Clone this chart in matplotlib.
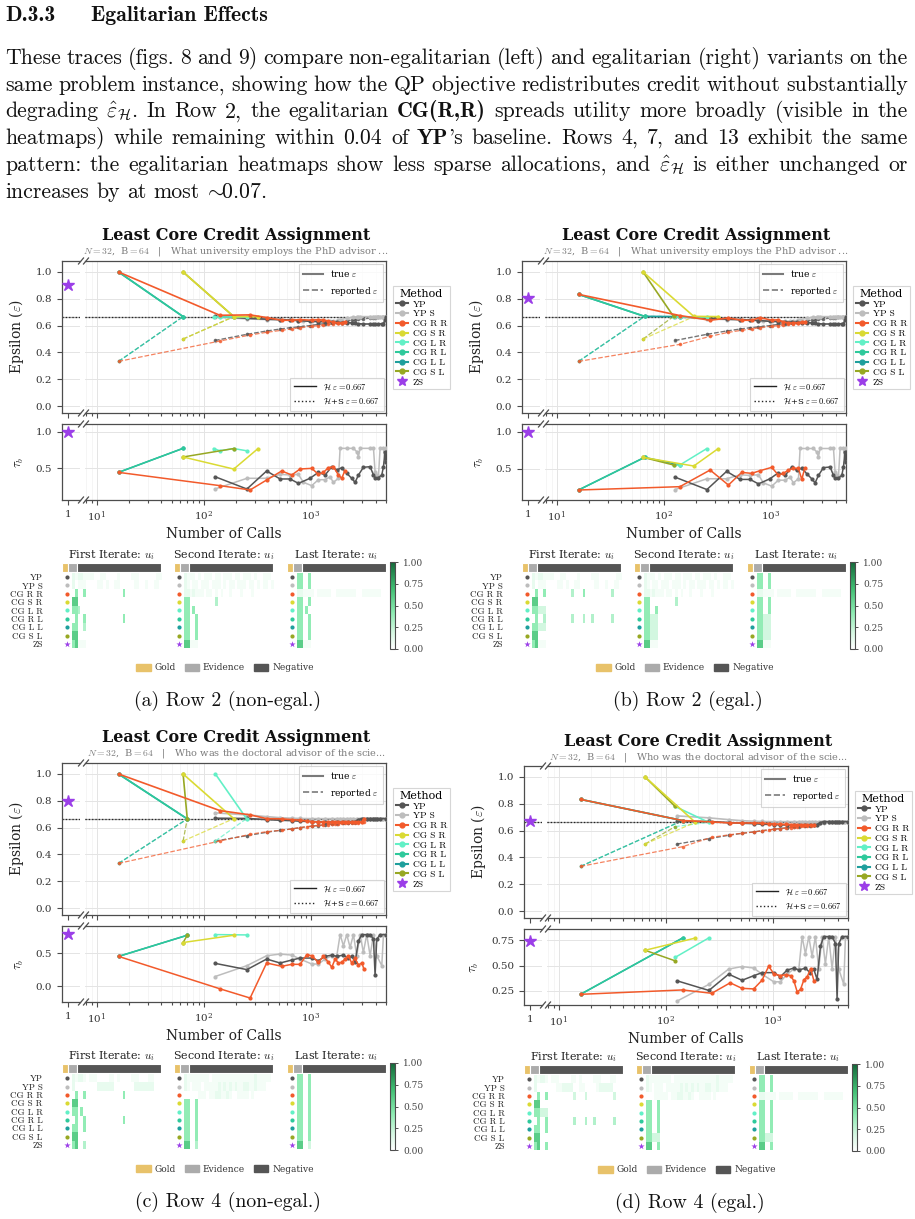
import re
import numpy as np
import matplotlib
matplotlib.use('Agg')
import matplotlib.pyplot as plt
from matplotlib.lines import Line2D
from matplotlib.patches import Rectangle, Patch
from matplotlib.colors import LinearSegmentedColormap
import matplotlib.ticker as mticker

plt.rcParams['mathtext.fontset'] = 'cm'
plt.rcParams['font.family'] = 'DejaVu Serif'

# ======================= DATA =======================
METHODS = ['YP', 'YP S', 'CG R R', 'CG S R', 'CG L R', 'CG R L', 'CG L L', 'CG S L', 'ZS']
COLORS = ['#555555', '#bdbdbd', '#f25a2b', '#dada33', '#62f0c6', '#2ec99b', '#1e9f9c', '#97a823', '#9b3ee8']
N_GOLD, N_EVID, N_NEG = 2, 3, 27
EPS_REF = 0.667

HEADING_NUM = 'D.3.3'
HEADING = 'Egalitarian Effects'
PARAGRAPH = [
    "These traces (figs. 8 and 9) compare non-egalitarian (left) and egalitarian (right) variants on the",
    "same problem instance, showing how the QP objective redistributes credit without substantially",
    r"degrading $\hat{\varepsilon}_{\mathcal{H}}$. In Row 2, the egalitarian **CG(R,R)** spreads utility more broadly (visible in the",
    r"heatmaps) while remaining within 0.04 of **YP**'s baseline. Rows 4, 7, and 13 exhibit the same",
    r"pattern: the egalitarian heatmaps show less sparse allocations, and $\hat{\varepsilon}_{\mathcal{H}}$ is either unchanged or",
    r"increases by at most $\!\sim\!\!$0.07.",
]
CAPTIONS = ['(a) Row 2 (non-egal.)', '(b) Row 2 (egal.)', '(c) Row 4 (non-egal.)', '(d) Row 4 (egal.)']
SUBTITLES = [r'$N = 32$,  B$ = 64$   |   What university employs the PhD advisor ...',
             r'$N = 32$,  B$ = 64$   |   What university employs the PhD advisor ...',
             r'$N = 32$,  B$ = 64$   |   Who was the doctoral advisor of the scie...',
             r'$N = 32$,  B$ = 64$   |   Who was the doctoral advisor of the scie...']

# ---- Row 2 instance: YP / YP S traces (shared by a, b) ----
R2_YP_CALLS = [127, 252, 385, 514, 637, 762, 977, 1170, 1352, 1560, 1738, 1933, 2153, 2393, 2574, 2767, 3076, 3555, 3821, 3954, 4250, 4568, 4734, 4900, 4990]
R2_YP_EPS = [0.669, 0.655, 0.648, 0.645, 0.642, 0.638, 0.632, 0.63, 0.628, 0.626, 0.625, 0.623, 0.622, 0.62, 0.617, 0.614, 0.612, 0.612, 0.612, 0.613, 0.613, 0.614, 0.615, 0.64, 0.664]
R2_YP_REP = [0.49, 0.535, 0.56, 0.575, 0.585, 0.59, 0.6, 0.61, 0.615, 0.62, 0.625, 0.63, 0.635, 0.64, 0.643, 0.646, 0.65, 0.655, 0.658, 0.66, 0.662, 0.664, 0.665, 0.666, 0.667]
R2_YP_TAU = [0.386, 0.218, 0.464, 0.355, 0.355, 0.295, 0.364, 0.445, 0.409, 0.523, 0.477, 0.509, 0.432, 0.364, 0.309, 0.409, 0.514, 0.523, 0.409, 0.373, 0.373, 0.409, 0.523, 0.727, 0.59]
R2_YPS_CALLS = [127, 252, 385, 514, 637, 762, 847, 1014, 1170, 1352, 1503, 1614, 1800, 1866, 2153, 2483, 2668, 2767, 2865, 3555, 3821, 3954, 4100, 4250, 4405, 4734, 4900, 4990]
R2_YPS_EPS = [0.665, 0.65, 0.645, 0.643, 0.64, 0.638, 0.636, 0.634, 0.633, 0.632, 0.633, 0.635, 0.64, 0.645, 0.655, 0.662, 0.665, 0.666, 0.667, 0.667, 0.667, 0.667, 0.667, 0.667, 0.667, 0.667, 0.667, 0.667]
R2_YPS_REP = [0.485, 0.535, 0.56, 0.572, 0.582, 0.59, 0.595, 0.603, 0.61, 0.615, 0.62, 0.625, 0.632, 0.635, 0.642, 0.65, 0.655, 0.657, 0.66, 0.664, 0.665, 0.666, 0.666, 0.667, 0.667, 0.667, 0.667, 0.667]
R2_YPS_TAU = [0.218, 0.364, 0.364, 0.418, 0.409, 0.418, 0.309, 0.264, 0.345, 0.345, 0.386, 0.309, 0.364, 0.773, 0.773, 0.773, 0.727, 0.659, 0.773, 0.773, 0.773, 0.455, 0.409, 0.386, 0.773, 0.773, 0.591, 0.773]

# ---- Row 4 instance: YP / YP S traces (shared by c, d) ----
R4_YP_CALLS = [127, 252, 385, 514, 660, 789, 1014, 1170, 1352, 1560, 1738, 2004, 2230, 2393, 2574, 2767, 2970, 3305, 3555, 3821, 3954, 4100, 4405, 4990]
R4_YP_EPS = [0.67, 0.668, 0.66, 0.655, 0.652, 0.648, 0.645, 0.643, 0.642, 0.641, 0.64, 0.64, 0.64, 0.641, 0.645, 0.66, 0.667, 0.667, 0.667, 0.667, 0.667, 0.667, 0.667, 0.667]
R4_YP_REP = [0.5, 0.54, 0.565, 0.58, 0.59, 0.6, 0.61, 0.615, 0.62, 0.625, 0.63, 0.635, 0.638, 0.64, 0.645, 0.655, 0.66, 0.663, 0.665, 0.666, 0.666, 0.667, 0.667, 0.667]
R4_YP_TAU = [0.35, 0.255, 0.415, 0.355, 0.4, 0.43, 0.43, 0.39, 0.455, 0.475, 0.455, 0.475, 0.425, 0.465, 0.365, 0.69, 0.785, 0.785, 0.785, 0.715, 0.175, 0.715, 0.785, 0.785]
R4_YPS_CALLS = [127, 252, 385, 514, 660, 789, 1014, 1170, 1352, 1560, 1738, 1866, 2004, 2153, 2312, 2483, 2668, 2865, 3076, 3305, 3555, 3821, 4100, 4568, 4734, 4990]
R4_YPS_EPS = [0.71, 0.695, 0.682, 0.674, 0.67, 0.668, 0.667, 0.667, 0.667, 0.667, 0.667, 0.667, 0.667, 0.667, 0.667, 0.667, 0.667, 0.667, 0.667, 0.667, 0.667, 0.667, 0.667, 0.667, 0.667, 0.667]
R4_YPS_REP = [0.5, 0.54, 0.565, 0.58, 0.59, 0.6, 0.61, 0.618, 0.625, 0.632, 0.638, 0.642, 0.646, 0.65, 0.654, 0.657, 0.66, 0.662, 0.664, 0.665, 0.666, 0.667, 0.667, 0.667, 0.667, 0.667]
R4_YPS_TAU = [0.15, 0.315, 0.465, 0.49, 0.475, 0.415, 0.34, 0.34, 0.415, 0.465, 0.465, 0.785, 0.615, 0.785, 0.59, 0.785, 0.465, 0.785, 0.515, 0.785, 0.465, 0.785, 0.465, 0.315, 0.785, 0.785]

# ---- (a) Row 2, non-egalitarian ----
A_CGRR_CALLS = [16, 141, 270, 385, 532, 660, 789, 1014, 1170, 1303, 1452, 1614, 1800, 1933, 2060]
A_CGRR_EPS = [1.0, 0.677, 0.68, 0.66, 0.64, 0.64, 0.645, 0.64, 0.645, 0.64, 0.635, 0.625, 0.62, 0.62, 0.627]
A_CGRR_REP = [0.333, 0.485, 0.53, 0.55, 0.565, 0.575, 0.585, 0.595, 0.6, 0.605, 0.61, 0.613, 0.617, 0.62, 0.625]
A_CGRR_TAU = [0.445, 0.264, 0.205, 0.341, 0.464, 0.409, 0.491, 0.5, 0.418, 0.445, 0.509, 0.523, 0.409, 0.364, 0.464]
A_CGSR_CALLS = [64, 190, 320]
A_CGSR_EPS = [1.0, 0.667, 0.667]
A_CGSR_REP = [0.5, 0.667, 0.667]
A_CGSR_TAU = [0.655, 0.49, 0.77]
A_CGLR_CALLS = [123, 141, 190, 250]
A_CGLR_EPS = [0.667, 0.667, 0.667, 0.667]
A_CGLR_REP = [0.667, 0.667, 0.667, 0.667]
A_CGLR_TAU = [0.77, 0.74, 0.77, 0.74]
A_CGRL_CALLS = [16, 64]
A_CGRL_EPS = [1.0, 0.667]
A_CGRL_REP = [0.333, 0.667]
A_CGRL_TAU = [0.445, 0.773]
A_CGLL_CALLS = [16, 64]
A_CGLL_EPS = [1.0, 0.667]
A_CGLL_REP = [0.333, 0.667]
A_CGLL_TAU = [0.445, 0.773]
A_CGSL_CALLS = [64, 190]
A_CGSL_EPS = [1.0, 0.667]
A_CGSL_REP = [0.5, 0.667]
A_CGSL_TAU = [0.655, 0.77]
A_ZS = (0.9, 1.0)

# ---- (b) Row 2, egalitarian ----
B_CGRR_CALLS = [16, 141, 270, 400, 532, 660, 789, 1014, 1170, 1303, 1452, 1614, 1800, 1933, 2060]
B_CGRR_EPS = [0.833, 0.675, 0.64, 0.657, 0.64, 0.64, 0.66, 0.64, 0.644, 0.627, 0.62, 0.62, 0.622, 0.625, 0.627]
B_CGRR_REP = [0.333, 0.46, 0.52, 0.55, 0.565, 0.575, 0.585, 0.595, 0.6, 0.605, 0.61, 0.613, 0.617, 0.62, 0.625]
B_CGRR_TAU = [0.212, 0.257, 0.482, 0.279, 0.45, 0.437, 0.473, 0.518, 0.414, 0.437, 0.482, 0.505, 0.505, 0.356, 0.505]
B_CGSR_CALLS = [64, 190, 320]
B_CGSR_EPS = [1.0, 0.669, 0.667]
B_CGSR_REP = [0.5, 0.667, 0.667]
B_CGSR_TAU = [0.653, 0.536, 0.77]
B_CGLR_CALLS = [123, 141, 250]
B_CGLR_EPS = [0.667, 0.667, 0.667]
B_CGLR_REP = [0.667, 0.667, 0.667]
B_CGLR_TAU = [0.55, 0.55, 0.77]
B_CGRL_CALLS = [16, 66]
B_CGRL_EPS = [0.833, 0.669]
B_CGRL_REP = [0.333, 0.669]
B_CGRL_TAU = [0.212, 0.653]
B_CGLL_CALLS = [16, 66, 141]
B_CGLL_EPS = [0.833, 0.669, 0.667]
B_CGLL_REP = [0.333, 0.669, 0.667]
B_CGLL_TAU = [0.212, 0.653, 0.55]
B_CGSL_CALLS = [64, 123]
B_CGSL_EPS = [1.0, 0.669]
B_CGSL_REP = [0.5, 0.669]
B_CGSL_TAU = [0.653, 0.55]
B_ZS = (0.806, 1.0)

# ---- (c) Row 4, non-egalitarian ----
C_CGRR_CALLS = [16, 141, 270, 385, 532, 660, 789, 912, 1014, 1170, 1303, 1452, 1560, 1676, 1800, 1933, 2075, 2230, 2393, 2574, 2767, 2970, 3115]
C_CGRR_EPS = [1.0, 0.727, 0.695, 0.667, 0.665, 0.66, 0.655, 0.65, 0.645, 0.642, 0.64, 0.64, 0.64, 0.64, 0.64, 0.64, 0.64, 0.64, 0.64, 0.64, 0.64, 0.64, 0.667]
C_CGRR_REP = [0.333, 0.5, 0.55, 0.57, 0.58, 0.59, 0.6, 0.607, 0.612, 0.617, 0.62, 0.623, 0.625, 0.627, 0.629, 0.631, 0.633, 0.635, 0.636, 0.637, 0.638, 0.639, 0.64]
C_CGRR_TAU = [0.455, -0.035, -0.175, 0.355, 0.305, 0.335, 0.335, 0.48, 0.465, 0.365, 0.455, 0.365, 0.29, 0.415, 0.355, 0.365, 0.415, 0.465, 0.355, 0.425, 0.325, 0.355, 0.265]
C_CGSR_CALLS = [64, 190]
C_CGSR_EPS = [1.0, 0.667]
C_CGSR_REP = [0.5, 0.667]
C_CGSR_TAU = [0.665, 0.775]
C_CGLR_CALLS = [128, 250]
C_CGLR_EPS = [1.0, 0.667]
C_CGLR_REP = [0.5, 0.667]
C_CGLR_TAU = [0.785, 0.78]
C_CGRL_CALLS = [16, 70]
C_CGRL_EPS = [1.0, 0.665]
C_CGRL_REP = [0.333, 0.665]
C_CGRL_TAU = [0.455, 0.775]
C_CGLL_CALLS = [16, 70]
C_CGLL_EPS = [1.0, 0.665]
C_CGLL_REP = [0.333, 0.665]
C_CGLL_TAU = [0.455, 0.775]
C_CGSL_CALLS = [64, 70]
C_CGSL_EPS = [1.0, 0.665]
C_CGSL_REP = [0.5, 0.665]
C_CGSL_TAU = [0.665, 0.775]
C_ZS = (0.8, 0.79)

# ---- (d) Row 4, egalitarian ----
D_CGRR_CALLS = [16, 143, 268, 398, 512, 659, 788, 910, 1014, 1171, 1306, 1454, 1563, 1680, 1805, 1939, 2084, 2240, 2405]
D_CGRR_EPS = [0.833, 0.675, 0.665, 0.657, 0.657, 0.657, 0.655, 0.652, 0.65, 0.648, 0.646, 0.645, 0.644, 0.643, 0.642, 0.641, 0.64, 0.64, 0.64]
D_CGRR_REP = [0.333, 0.48, 0.55, 0.57, 0.58, 0.59, 0.598, 0.605, 0.61, 0.615, 0.62, 0.623, 0.626, 0.629, 0.632, 0.634, 0.636, 0.638, 0.64]
D_CGRR_TAU = [0.217, 0.26, 0.227, 0.33, 0.276, 0.27, 0.355, 0.493, 0.42, 0.4, 0.41, 0.4, 0.35, 0.24, 0.266, 0.36, 0.39, 0.47, 0.35]
D_CGSR_CALLS = [64, 188]
D_CGSR_EPS = [1.0, 0.662]
D_CGSR_REP = [0.5, 0.662]
D_CGSR_TAU = [0.65, 0.77]
D_CGLR_CALLS = [122, 250]
D_CGLR_EPS = [0.78, 0.662]
D_CGLR_REP = [0.63, 0.662]
D_CGLR_TAU = [0.58, 0.77]
D_CGRL_CALLS = [16, 143]
D_CGRL_EPS = [0.833, 0.675]
D_CGRL_REP = [0.333, 0.675]
D_CGRL_TAU = [0.217, 0.77]
D_CGLL_CALLS = [16, 143]
D_CGLL_EPS = [0.833, 0.675]
D_CGLL_REP = [0.333, 0.675]
D_CGLL_TAU = [0.217, 0.77]
D_CGSL_CALLS = [64, 122]
D_CGSL_EPS = [1.0, 0.78]
D_CGSL_REP = [0.5, 0.63]
D_CGSL_TAU = [0.65, 0.546]
D_ZS = (0.675, 0.743)

# ---- heatmaps: one string per method row, one digit per player (trailing zeros omitted) ----
LEVELS = [0.0, 0.05, 0.1, 0.2, 0.3, 0.4, 0.5, 0.6, 0.7, 0.8]
A_FIRST = ["21221111001100001000011100000011", "20111000011010011000001100100110",
           "05005000000000000050", "77", "554", "05005000000000000050", "55004", "77", "57111"]
A_SECOND = ["21110101110110111011011101001110", "21011011101110101101110110101101",
            "22121110110101001000100010000000", "55000000000400", "5505", "55005", "55005", "55005", "77111"]
A_LAST = ["55005", "55005", "22111101111100111111100111111100", "55005", "5505", "55005", "55005", "55005", "77111"]
B_FIRST = ["21221111001100001000011100000011", "20111000011010011000001100100110",
           "05005000000000400050000000004", "77", "55333", "05004000000000400040040000004", "55333", "77", "57111"]
B_SECOND = ["21110101110110111011011101001110", "21011011101110101101110110101101",
            "22121110110101001000100010000000", "55000000000400", "55005", "55333", "55333", "55333", "77111"]
B_LAST = ["55005", "55005", "22111101111100111111100111111100", "55005", "55005", "55333", "55333", "55333", "77111"]
C_FIRST = ["21221011100001101000011100011", "2000000002222220000000222222200",
           "05005000000000000050", "77", "5505", "05005000000000000050", "55005", "77", "57004"]
C_SECOND = ["21111111101111111111111112111110", "21011101111121212121122112111",
            "0000011101122112100111101", "55005", "55005", "55005", "55005", "55005", "77004"]
C_LAST = ["55005", "55005", "55005", "55005", "55005", "55005", "55005", "55005", "77003"]
D_FIRST = ["21221011100001101000011100011", "2000000011222200110000122222",
           "05005000000000300030000000003", "77", "55333", "05005000000000400040040000004", "55005", "77", "57005"]
D_SECOND = ["21111111101111111111111112111110", "21011101111121212121122112111",
            "0001111101122112100111101", "55005", "55005", "55005", "55005", "55333", "77005"]
D_LAST = ["55005", "55005", "22111101111100111111100111111100", "55005", "55005", "55005", "55005", "55333", "77005"]

# ======================= LAYOUT / STYLE =======================
W, H = 915, 1219
fig = plt.figure(figsize=(W / 100, H / 100), dpi=100)
COLOR = dict(zip(METHODS, COLORS))
SPINE = '#4d4d4d'
TXT = '#333333'
GOLD, EVID, NEG = '#e8c26a', '#ababab', '#555555'
HEAT_CMAP = LinearSegmentedColormap.from_list(
    'g', [(0, '#ffffff'), (0.2, '#d2f7e0'), (0.42, '#8cebb1'), (0.7, '#40bd72'), (1.0, '#15683a')])
DRAW_ORDER = ['YP S', 'YP', 'CG L L', 'CG R L', 'CG L R', 'CG S L', 'CG S R', 'CG R R']


def px_ax(x, y, w, h):
    return fig.add_axes([x / W, 1 - (y + h) / H, w / W, h / H])


def ftext(x, y, s, **kw):
    return fig.text(x / W, 1 - y / H, s, **kw)


def fline(x0, y0, x1, y1, **kw):
    fig.add_artist(Line2D([x0 / W, x1 / W], [1 - y0 / H, 1 - y1 / H], transform=fig.transFigure, **kw))


# ---------------- paragraph ----------------
renderer = fig.canvas.get_renderer()


def tokens(line):
    out = []
    for word in line.split(' '):
        segs = []
        for part in re.split(r'(\*\*.+?\*\*)', word):
            if not part:
                continue
            if part.startswith('**'):
                segs.append((part[2:-2], True))
            else:
                segs.append((part, False))
        out.append(segs)
    return out


def measure_line(line, size):
    total = 0
    for segs in tokens(line):
        for txt, b in segs:
            t = fig.text(0, 0, txt, fontsize=size, family='cmb10' if b else 'cmr10')
            total += t.get_window_extent(renderer).width
            t.remove()
    return total


X0, X1 = 5, 908
BODY = 16.0
nat = max(measure_line(l, BODY) + 0.27 * BODY * 1.389 * (len(l.split(' ')) - 1) for l in PARAGRAPH[:-1])
if nat > (X1 - X0):
    BODY = BODY * (X1 - X0) / nat


def draw_line(line, y, justify):
    words = []
    for segs in tokens(line):
        objs = []
        for txt, b in segs:
            t = ftext(0, y, txt, fontsize=BODY, family='cmb10' if b else 'cmr10', va='baseline', color='#111')
            objs.append((t, t.get_window_extent(renderer).width))
        words.append(objs)
    widths = [sum(w for _, w in o) for o in words]
    gap = (X1 - X0 - sum(widths)) / (len(words) - 1) if justify else 0.333 * BODY * 1.389
    x = X0
    for o in words:
        for t, w in o:
            t.set_x(x / W)
            x += w
        x += gap


ftext(5, 21, HEADING_NUM, family='cmb10', fontsize=BODY, va='baseline', color='#111')
ftext(91, 21, HEADING, family='cmb10', fontsize=BODY, va='baseline', color='#111')
for i, line in enumerate(PARAGRAPH):
    draw_line(line, 64 + i * 26.7, justify=(i < len(PARAGRAPH) - 1))


# ---------------- panels ----------------
def style_ax(ax):
    ax.set_facecolor('white')
    for s in ax.spines.values():
        s.set_color(SPINE)
        s.set_linewidth(0.9)
    ax.tick_params(which='both', direction='out', color=SPINE, labelcolor=TXT, labelsize=7.5, width=0.8)
    ax.tick_params(which='major', length=3.5)
    ax.tick_params(which='minor', length=2)


def break_marks(x, y):
    for xx in (x - 1, x + 4):
        fline(xx - 2.5, y + 3, xx + 2.5, y - 3, color=SPINE, lw=0.9)


def matrix(rows):
    return np.array([[LEVELS[int(c)] for c in r.ljust(N_GOLD + N_EVID + N_NEG, '0')] for r in rows])


def draw_panel(dx, dy, dyh, series, zs, tau_lim, tau_ticks, tau_fmt, heat, subtitle, caption):
    X = lambda v: v + dx
    ftext(X(236), dy + 236, 'Least Core Credit Assignment', fontsize=11.5, fontweight='bold',
          ha='center', va='center', color='#111')
    ftext(X(236), dy + 252, subtitle, fontsize=7, color='#7a7a7a', ha='center', va='center')

    for kind, ytop, h in (('eps', 261, 152), ('tau', 424, 76)):
        axL = px_ax(X(62), dy + ytop, 18, h)
        axM = px_ax(X(85), dy + ytop, 301, h)
        for ax in (axL, axM):
            style_ax(ax)
        axL.spines['right'].set_visible(False)
        axM.spines['left'].set_visible(False)
        axL.set_xlim(0.7, 1.6)
        axL.set_xticks([1])
        axM.set_xscale('log')
        axM.set_xlim(7.78, 5000)
        axM.xaxis.set_major_locator(mticker.LogLocator(base=10, numticks=10))
        axM.xaxis.set_minor_locator(mticker.LogLocator(base=10, subs=np.arange(2, 10), numticks=10))
        axM.grid(True, which='major', color='#e4e4e4', lw=0.7)
        axM.grid(True, which='minor', axis='x', color='#f1f1f1', lw=0.5)
        axL.grid(True, which='major', axis='y', color='#e4e4e4', lw=0.7)
        axM.tick_params(axis='y', which='both', length=0, labelleft=False)
        break_marks(X(82), dy + ytop)
        break_marks(X(82), dy + ytop + h)
        if kind == 'eps':
            lim = (-0.052, 1.082)
            ticks = [0.0, 0.2, 0.4, 0.6, 0.8, 1.0]
            for ax in (axL, axM):
                ax.set_ylim(*lim)
                ax.set_yticks(ticks)
                ax.tick_params(axis='x', which='both', labelbottom=False)
                ax.axhline(EPS_REF, color='#555555', lw=0.9, alpha=0.55, zorder=2)
                ax.axhline(EPS_REF, color='#222222', lw=0.9, ls=':', zorder=2)
            axL.set_yticklabels(['%.1f' % t for t in ticks])
            axL.set_ylabel(r'Epsilon ($\varepsilon$)', fontsize=10, color='#222', labelpad=7)
            for name in DRAW_ORDER:
                if name not in series:
                    continue
                calls, eps, rep, tau = series[name]
                axM.plot(calls, rep, ls='--', color=COLOR[name], lw=0.9, alpha=0.75,
                         marker='o', ms=1.6, zorder=3)
                axM.plot(calls, eps, ls='-', color=COLOR[name], lw=1.2, marker='o', ms=2.0, zorder=4)
            axL.plot([1], [zs[0]], marker='*', ms=9, color=COLOR['ZS'], ls='none', clip_on=False, zorder=5)
            leg1 = axM.legend(handles=[Line2D([], [], color='#7a7a7a', lw=1.5),
                                       Line2D([], [], color='#7a7a7a', lw=1.2, ls='--')],
                              labels=[r'true $\varepsilon$', r'reported $\varepsilon$'],
                              loc='upper right', fontsize=6.5, fancybox=False, edgecolor='#cccccc',
                              handlelength=2.2, borderpad=0.5, labelspacing=0.6, borderaxespad=0.3)
            leg1.get_frame().set_linewidth(0.8)
            axM.add_artist(leg1)
            leg2 = axM.legend(handles=[Line2D([], [], color='#222', lw=1.0),
                                       Line2D([], [], color='#222', lw=1.0, ls=':')],
                              labels=[r'$\mathcal{H}$ $\varepsilon=0.667$', r'$\mathcal{H}$+S $\varepsilon=0.667$'],
                              loc='lower right', fontsize=6, fancybox=False, edgecolor='#cccccc',
                              handlelength=2.6, borderpad=0.5, labelspacing=0.6, borderaxespad=0.3)
            leg2.get_frame().set_linewidth(0.8)
        else:
            for ax in (axL, axM):
                ax.set_ylim(*tau_lim)
                ax.set_yticks(tau_ticks)
            axL.set_yticklabels([tau_fmt % t for t in tau_ticks])
            axL.set_xticklabels(['1'])
            axL.set_ylabel(r'$\tau_b$', fontsize=9, color='#222', labelpad=7)
            for name in DRAW_ORDER:
                if name not in series:
                    continue
                calls, eps, rep, tau = series[name]
                axM.plot(calls, tau, ls='-', color=COLOR[name], lw=1.1, marker='o', ms=2.0, zorder=4)
            axL.plot([1], [zs[1]], marker='*', ms=9, color=COLOR['ZS'], ls='none', clip_on=False, zorder=5)

    ftext(X(224), dy + 534, 'Number of Calls', fontsize=10, ha='center', va='center', color='#222')

    # method legend
    handles = []
    for name in METHODS:
        if name == 'ZS':
            handles.append(Line2D([], [], color=COLOR[name], lw=0, marker='*', ms=7))
        else:
            handles.append(Line2D([], [], color=COLOR[name], lw=1.5, marker='o', ms=3.5))
    leg = fig.legend(handles, METHODS, title='Method', loc='upper left',
                     bbox_to_anchor=(X(393) / W, 1 - (dy + 286) / H),
                     prop={'family': 'cmr10', 'size': 6.8},
                     title_fontproperties={'family': 'DejaVu Serif', 'size': 8},
                     handlelength=1.3, labelspacing=0.12, borderpad=0.3, handletextpad=0.5,
                     fancybox=False, edgecolor='#cccccc', borderaxespad=0)
    leg.get_frame().set_linewidth(0.8)

    # heatmaps
    titles = [r'First Iterate: $u_i$', r'Second Iterate: $u_i$', r'Last Iterate: $u_i$']
    ncol = N_GOLD + N_EVID + N_NEG
    im = None
    for k, rows in enumerate(heat):
        x0 = X([62, 174, 287][k])
        mat = matrix(rows)
        axb = px_ax(x0, dyh + 563, 99, 9)
        axh = px_ax(x0, dyh + 573, 99, 75)
        im = axh.imshow(mat, cmap=HEAT_CMAP, vmin=0, vmax=1, aspect='auto', interpolation='nearest')
        axh.set_xticks([])
        axh.tick_params(axis='y', length=0)
        for s in axh.spines.values():
            s.set_visible(False)
        if k == 0:
            axh.set_yticks(range(len(METHODS)))
            axh.set_yticklabels(METHODS, fontfamily='cmr10', fontsize=6.5, color='#222')
            axh.tick_params(axis='y', pad=14)
        else:
            axh.set_yticks([])
        for i, name in enumerate(METHODS):
            axh.scatter([-2.3], [i], s=22 if name == 'ZS' else 9, marker='*' if name == 'ZS' else 'o',
                        color=COLOR[name], clip_on=False, zorder=5, linewidths=0)
        axb.set_xlim(-0.5, ncol - 0.5)
        axb.set_ylim(0, 1)
        start = 0
        for n, c in ((N_GOLD, GOLD), (N_EVID, EVID), (N_NEG, NEG)):
            axb.add_patch(Rectangle((start - 0.5, 0), n, 1, facecolor=c, edgecolor='white', lw=0.8))
            start += n
        axb.axis('off')
        ftext(x0 + 49.5, dyh + 555, titles[k], fontsize=8, ha='center', va='center', color='#222')
    cax = px_ax(X(390), dyh + 562, 5, 87)
    cb = fig.colorbar(im, cax=cax, ticks=[0, 0.25, 0.5, 0.75, 1.0])
    cb.ax.set_yticklabels(['0.00', '0.25', '0.50', '0.75', '1.00'])
    cb.ax.tick_params(labelsize=6.5, labelcolor='#444', color=SPINE, length=2.5, width=0.7)
    cb.outline.set_edgecolor(SPINE)
    cb.outline.set_linewidth(0.8)
    fig.legend([Patch(color=GOLD), Patch(color=EVID), Patch(color=NEG)], ['Gold', 'Evidence', 'Negative'],
               loc='center', bbox_to_anchor=(X(225) / W, 1 - (dyh + 668) / H), ncol=3, frameon=False,
               fontsize=6.5, handlelength=1.6, handleheight=0.8, columnspacing=1.0, handletextpad=0.4,
               labelcolor='#333')
    ftext(X(228), dyh + 701, caption, family='cmr10', fontsize=14.3, ha='center', va='center', color='#111')


def series_of(prefix, yp, yps):
    g = globals()
    s = {'YP': yp, 'YP S': yps}
    for name, key in (('CG R R', 'CGRR'), ('CG S R', 'CGSR'), ('CG L R', 'CGLR'),
                      ('CG R L', 'CGRL'), ('CG L L', 'CGLL'), ('CG S L', 'CGSL')):
        s[name] = (g[f'{prefix}_{key}_CALLS'], g[f'{prefix}_{key}_EPS'],
                   g[f'{prefix}_{key}_REP'], g[f'{prefix}_{key}_TAU'])
    return s


R2_YP = (R2_YP_CALLS, R2_YP_EPS, R2_YP_REP, R2_YP_TAU)
R2_YPS = (R2_YPS_CALLS, R2_YPS_EPS, R2_YPS_REP, R2_YPS_TAU)
R4_YP = (R4_YP_CALLS, R4_YP_EPS, R4_YP_REP, R4_YP_TAU)
R4_YPS = (R4_YPS_CALLS, R4_YPS_EPS, R4_YPS_REP, R4_YPS_TAU)

draw_panel(0, 0, 0, series_of('A', R2_YP, R2_YPS), A_ZS, (0.068, 1.105), [0.5, 1.0], '%.1f',
           (A_FIRST, A_SECOND, A_LAST), SUBTITLES[0], CAPTIONS[0])
draw_panel(460, 0, 0, series_of('B', R2_YP, R2_YPS), B_ZS, (0.077, 1.104), [0.5, 1.0], '%.1f',
           (B_FIRST, B_SECOND, B_LAST), SUBTITLES[1], CAPTIONS[1])
draw_panel(0, 502, 501, series_of('C', R4_YP, R4_YPS), C_ZS, (-0.235, 0.915), [0.0, 0.5], '%.1f',
           (C_FIRST, C_SECOND, C_LAST), SUBTITLES[2], CAPTIONS[2])
draw_panel(462, 505, 502, series_of('D', R4_YP, R4_YPS), D_ZS, (0.112, 0.859), [0.25, 0.5, 0.75], '%.2f',
           (D_FIRST, D_SECOND, D_LAST), SUBTITLES[3], CAPTIONS[3])

fig.savefig('out.png', dpi=100, facecolor='white')
